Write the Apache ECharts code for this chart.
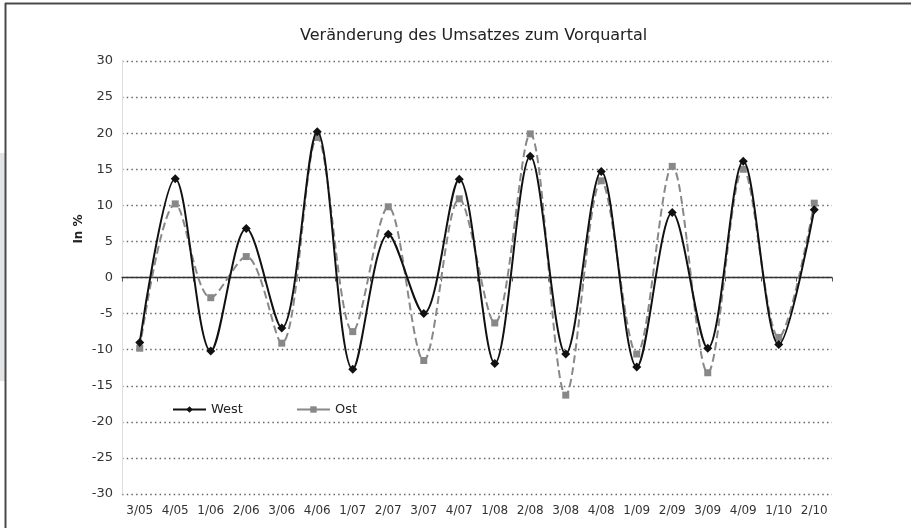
<!DOCTYPE html>
<html>
<head>
<meta charset="utf-8">
<script src="https://cdn.jsdelivr.net/npm/echarts@6/dist/echarts.min.js"></script>
<style>
  html, body { margin: 0; padding: 0; background: #fff; }
  #content { width: 911px; height: 528px; }
</style>
</head>
<body>
<div id="content"></div>
<script>
// Quartale
var quarters = ['3/05', '4/05', '1/06', '2/06', '3/06', '4/06', '1/07', '2/07', '3/07', '4/07',
                '1/08', '2/08', '3/08', '4/08', '1/09', '2/09', '3/09', '4/09', '1/10', '2/10'];
// Veränderung zum Vorquartal in %
var west = [-9.0, 13.7, -10.2, 6.8, -7.0, 20.2, -12.7, 6.0, -5.0, 13.6,
            -11.9, 16.8, -10.6, 14.7, -12.4, 9.0, -9.8, 16.1, -9.3, 9.4];
var ost = [-9.8, 10.2, -2.8, 2.9, -9.1, 19.4, -7.5, 9.8, -11.5, 10.9,
           -6.3, 19.9, -16.3, 13.4, -10.6, 15.4, -13.2, 15.0, -8.3, 10.3];
var yTicks = [-30, -25, -20, -15, -10, -5, 0, 5, 10, 15, 20, 25, 30];

var font = 'DejaVu Sans';
var myChart = echarts.init(document.getElementById('content'), null, { renderer: 'canvas' });

var option = {
    backgroundColor: '#fff',
    animation: false,
    textStyle: { fontFamily: font },
    title: {
        text: 'Veränderung des Umsatzes zum Vorquartal',
        left: 295,
        top: 23,
        textStyle: { fontFamily: font, fontSize: 16, fontWeight: 'normal', color: '#222' }
    },
    legend: {
        left: 172,
        top: 403,
        padding: 0,
        itemWidth: 33,
        itemHeight: 8,
        itemGap: 53,
        textStyle: { fontFamily: font, fontSize: 13, color: '#222' },
        data: [
            { name: 'West' },
            { name: 'Ost', lineStyle: { type: 'solid' } }
        ]
    },
    grid: {
        left: 122,
        right: 79,
        top: 61,
        bottom: 34,
        containLabel: false,
        outerBoundsMode: 'none'
    },
    xAxis: [{
        type: 'category',
        data: quarters,
        boundaryGap: true,
        position: 'bottom',
        axisLine: { show: false, onZero: false },
        axisTick: { show: false },
        splitLine: { show: false },
        axisLabel: { fontFamily: font, fontSize: 12, color: '#333', margin: 11, interval: 0 }
    }, {
        type: 'category',
        data: quarters,
        boundaryGap: true,
        position: 'bottom',
        axisLine: { show: true, onZero: true, lineStyle: { color: '#333', width: 1.3 } },
        axisTick: { show: true, length: 4, lineStyle: { color: '#555' } },
        axisLabel: { show: false },
        splitLine: { show: false }
    }],
    yAxis: {
        type: 'value',
        min: -30,
        max: 30,
        interval: 5,
        axisLine: { show: true, onZero: false, lineStyle: { color: '#ddd', width: 1 } },
        axisTick: { show: false },
        axisLabel: {
            fontFamily: font, fontSize: 13, color: '#333', margin: 9,
            formatter: function(v) { return yTicks.indexOf(v) >= 0 ? String(v) : ''; }
        },
        splitLine: { show: true, lineStyle: { color: '#666', width: 1.3, type: [1.5, 3.2] } }
    },
    graphic: [
        // Rahmen links / oben
        { type: 'rect', shape: { x: 0, y: 153, width: 5, height: 228 }, style: { fill: '#e3e4e6' }, silent: true },
        { type: 'line', shape: { x1: 5.5, y1: 3, x2: 5.5, y2: 528 }, style: { stroke: '#4a4a4a', lineWidth: 2 }, silent: true },
        { type: 'line', shape: { x1: 5, y1: 3.5, x2: 911, y2: 3.5 }, style: { stroke: '#4a4a4a', lineWidth: 2 }, silent: true },
        // Achsentitel
        {
            type: 'text', x: 79, y: 229, rotation: Math.PI / 2, silent: true,
            style: {
                text: 'In %', fontFamily: font, fontSize: 12, fontWeight: 'bold', fill: '#222',
                align: 'center', verticalAlign: 'middle'
            }
        }
    ],
    series: [{
        name: 'West',
        type: 'line',
        xAxisIndex: 0,
        data: west,
        smooth: 0.33,
        symbol: 'diamond',
        symbolSize: 9,
        z: 3,
        itemStyle: { color: '#111' },
        lineStyle: { color: '#111', width: 2 }
    }, {
        name: 'Ost',
        type: 'line',
        xAxisIndex: 0,
        data: ost,
        smooth: 0.33,
        symbol: 'rect',
        symbolSize: 7,
        z: 2,
        itemStyle: { color: '#888' },
        lineStyle: { color: '#888', width: 2, type: [8, 4] }
    }]
};

myChart.setOption(option);
</script>
</body>
</html>
